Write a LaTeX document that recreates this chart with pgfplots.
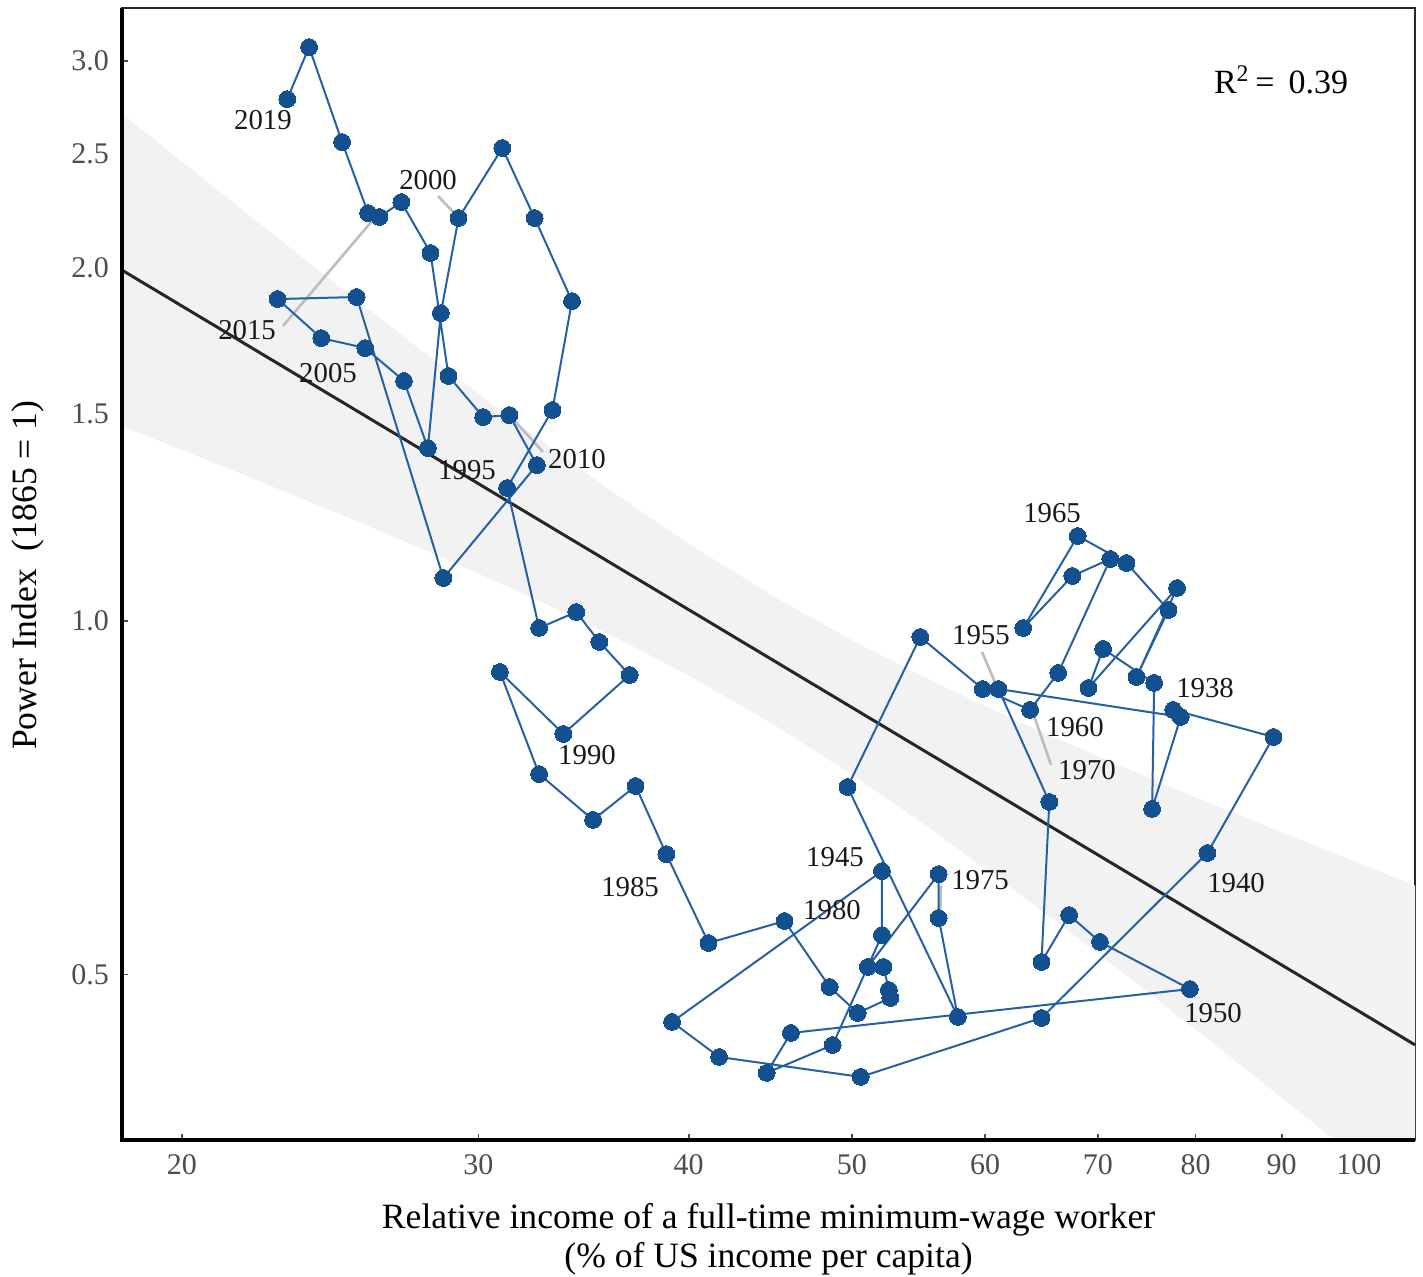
\documentclass[border=0pt]{standalone}
\usepackage{fontspec}
\setmainfont{Liberation Serif}
\usepackage{pgfplots}
\pgfplotsset{compat=1.18}
\definecolor{ptblue}{HTML}{12508F}
\definecolor{lnblue}{HTML}{2660A4}
\definecolor{bandgray}{HTML}{F2F2F2}
\definecolor{tickgray}{HTML}{4D4D4D}
\definecolor{seggray}{HTML}{BDBDBD}
\newcommand{\yearfont}{\fontsize{14.4}{16}\selectfont}

\pgfplotstableread{
x y
77.6 0.8400
89.0 0.7966
81.3 0.6344
64.8 0.4591
50.6 0.4090
41.7 0.4253
39.1 0.4555
52.1 0.6124
52.1 0.5402
48.7 0.4354
44.5 0.4122
46.0 0.4458
79.4 0.4859
70.2 0.5329
67.3 0.5618
64.8 0.5124
65.5 0.7013
61.1 0.8751
78.4 0.8285
75.4 0.6918
75.6 0.8856
70.5 0.9466
69.1 0.8769
78.0 1.0668
73.8 0.8960
77.1 1.0218
72.8 1.1204
68.1 1.1814
63.2 0.9864
67.6 1.0923
71.2 1.1293
66.3 0.9031
63.8 0.8400
59.8 0.8751
54.9 0.9691
49.7 0.7222
57.8 0.4600
56.3 0.5585
56.3 0.6088
51.1 0.5074
52.2 0.5074
52.6 0.4850
52.7 0.4775
50.4 0.4636
48.5 0.4879
45.6 0.5552
41.1 0.5318
38.8 0.6331
37.2 0.7236
35.1 0.6770
32.6 0.7408
30.9 0.9049
33.7 0.8013
36.9 0.8995
35.4 0.9597
34.3 1.0178
32.6 0.9864
31.2 1.2979
33.2 1.5122
34.1 1.8728
32.4 2.2036
31.0 2.5279
29.2 2.2036
28.5 1.8293
28.0 1.4038
27.1 1.6010
25.7 1.7078
24.2 1.7416
22.8 1.8801
25.4 1.8876
28.6 1.0880
32.5 1.3577
31.3 1.4974
30.2 1.4916
28.8 1.6168
28.1 2.0578
27.0 2.2739
26.2 2.2080
25.8 2.2254
24.9 2.5578
23.8 3.0816
23.1 2.7824
}\powerdata

\begin{document}
\begin{tikzpicture}
\begin{axis}[
  at={(0,0)}, anchor=south west,
  scale only axis, width=646.5pt, height=566pt,
  xmode=log, ymode=log,
  xmin=18.43, xmax=108.0, ymin=0.3614, ymax=3.327,
  xtick={20,30,40,50,60,70,80,90,100},
  xticklabels={20,30,40,50,60,70,80,90,100},
  ytick={0.5,1,1.5,2,2.5,3},
  yticklabels={0.5,1.0,1.5,2.0,2.5,3.0},
  xminorticks=false, yminorticks=false,
  xtick pos=bottom, ytick pos=left,
  tick align=inside, major tick length=3pt,
  tick style={tickgray, line width=0.8pt},
  ticklabel style={font=\fontsize{15}{18}\selectfont, text=tickgray},
  yticklabel style={xshift=-3pt},
  xticklabel style={yshift=-3.5pt},
  axis line style={line width=0.9pt, black!85},
  clip mode=individual,
  xlabel={Relative income of a full-time minimum-wage worker\\(\% of US income per capita)},
  xlabel style={at={(axis description cs:0.5,-0.088)}, anchor=center, align=center, font=\fontsize{17.8}{19.5}\selectfont},
  ylabel={Power Index\ \ (1865 = 1)},
  ylabel style={at={(axis description cs:-0.0727,0.499)}, anchor=center, font=\fontsize{17.8}{19.5}\selectfont},
]
% confidence band
\addplot[fill=bandgray, draw=none] coordinates {
(18.43,2.7037) (20,2.4612) (22,2.2072) (25,1.9101) (28,1.6837) (32,1.4568) (36,1.2893) (40,1.1636) (45,1.0476) (50,0.9627) (56,0.8865) (63,0.8196) (70,0.7671) (80,0.7076) (90,0.6606) (100,0.6218) (108,0.5952)
(108,0.3187) (100,0.3482) (90,0.3927) (80,0.4489) (70,0.5209) (63,0.5843) (56,0.6615) (50,0.7400) (45,0.8152) (40,0.8987) (36,0.9720) (32,1.0533) (28,1.1465) (25,1.2279) (22,1.3238) (20,1.3985) (18.43,1.4652)
} -- cycle;
% regression line
\addplot[line width=1.5pt, black!85] coordinates {(18.43,1.990) (108.0,0.4355)};
% label segments
\draw[seggray, line width=1.3pt] (rel axis cs:0.2444,0.8339) -- (rel axis cs:0.2606,0.8145);
\draw[seggray, line width=1.3pt] (rel axis cs:0.1245,0.7191) -- (rel axis cs:0.1972,0.8171);
\draw[seggray, line width=1.3pt] (rel axis cs:0.3016,0.6378) -- (rel axis cs:0.3256,0.6078);
\draw[seggray, line width=1.3pt] (rel axis cs:0.6651,0.4311) -- (rel axis cs:0.6767,0.4002);
\draw[seggray, line width=1.3pt] (rel axis cs:0.7046,0.3772) -- (rel axis cs:0.7185,0.3313);
\draw[seggray, line width=1.3pt] (rel axis cs:0.6334,0.2244) -- (rel axis cs:0.6327,0.1996);
% path
\addplot[color=lnblue, line width=1pt, mark=*, mark size=4.2pt, mark options={fill=ptblue, draw=ptblue, line width=0pt, solid}] table[x=x, y=y] {\powerdata};
% year labels
\begin{scope}[every node/.style={font=\yearfont, text=black!90, inner sep=0pt}]
\node at (rel axis cs:0.1090,0.9011) {2019};
\node at (rel axis cs:0.2367,0.8481) {2000};
\node at (rel axis cs:0.0967,0.7155) {2015};
\node at (rel axis cs:0.1593,0.6776) {2005};
\node at (rel axis cs:0.2668,0.5919) {1995};
\node at (rel axis cs:0.3519,0.6016) {2010};
\node at (rel axis cs:0.3596,0.3401) {1990};
\node at (rel axis cs:0.3929,0.2235) {1985};
\node at (rel axis cs:0.7193,0.5539) {1965};
\node at (rel axis cs:0.6643,0.4461) {1955};
\node at (rel axis cs:0.7370,0.3648) {1960};
\node at (rel axis cs:0.7463,0.3269) {1970};
\node at (rel axis cs:0.8376,0.3993) {1938};
\node at (rel axis cs:0.8616,0.2270) {1940};
\node at (rel axis cs:0.5514,0.2500) {1945};
\node at (rel axis cs:0.6636,0.2297) {1975};
\node at (rel axis cs:0.5491,0.2032) {1980};
\node at (rel axis cs:0.8438,0.1122) {1950};
\end{scope}
\node[font=\fontsize{17}{19}\selectfont, inner sep=0pt] at (rel axis cs:0.8964,0.9364) {R\textsuperscript{2}\,=\, 0.39};
% thick left and bottom axis lines
\draw[line width=1.8pt, black] (rel axis cs:0,1) -- (rel axis cs:0,0) -- (rel axis cs:1,0);
\end{axis}
\pgfresetboundingbox
\path[use as bounding box] (-61pt,-68pt) rectangle (650.5pt,570pt);
\end{tikzpicture}
\end{document}
